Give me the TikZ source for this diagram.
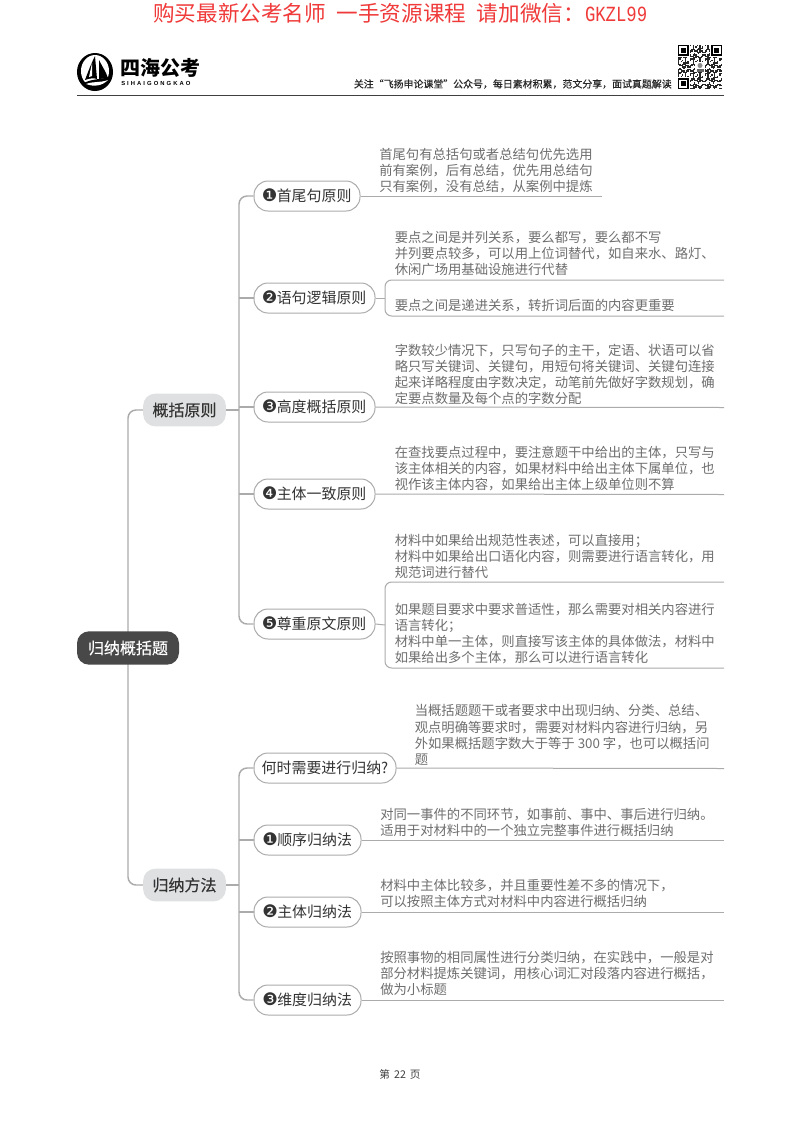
\documentclass[tikz,border=0pt]{standalone}
\usepackage{fontspec}
\usepackage{graphicx}
\setmainfont{Noto Sans CJK SC}
\newfontfamily\dv{DejaVu Sans}
\newfontfamily\semi[FakeBold=0.25]{Noto Sans CJK SC}
\newfontfamily\lat[LetterSpace=35]{Liberation Sans Bold}
\newfontfamily\mono{Liberation Mono}
\definecolor{linegray}{HTML}{ABABAB}
\definecolor{bodygray}{HTML}{6E6E6E}
\definecolor{kidtext}{HTML}{333333}
\definecolor{branchfill}{HTML}{DFE0E1}
\definecolor{rootfill}{HTML}{484848}
\definecolor{titlered}{HTML}{F03A3A}
\tikzset{
  x=0.75pt,y=-0.75pt,
  conn/.style={draw=linegray,line width=1.1pt},
  thin conn/.style={draw=linegray,line width=0.75pt},
  kid/.style={draw=linegray,line width=0.75pt,fill=white,rounded corners=10.5pt,minimum height=22.5pt,inner sep=0pt,text=kidtext,font=\fontsize{11.2pt}{13pt}\selectfont},
  branch/.style={fill=branchfill,rounded corners=9pt,minimum width=62pt,minimum height=24.5pt,inner sep=0pt,text=kidtext,font=\semi\fontsize{12pt}{14pt}\selectfont},
  rootn/.style={fill=rootfill,rounded corners=9pt,minimum width=76.5pt,minimum height=25pt,inner sep=0pt,text=white,font=\semi\fontsize{12pt}{14pt}\selectfont},
  body/.style={anchor=north west,inner sep=0pt,align=left,text=bodygray,font=\fontsize{10pt}{12.1pt}\selectfont},
}
\newcommand{\nb}[1]{{\dv\fontsize{13pt}{13pt}\selectfont\hspace{-0.5pt}#1}\hspace{-0.5pt}}
\begin{document}
\begin{tikzpicture}
\useasboundingbox (0,0) rectangle (800,1132);
\fill[white] (0,0) rectangle (800,1132);

% header
\node[anchor=west,inner sep=0pt,text=titlered,font=\fontsize{16.2pt}{18pt}\selectfont] (title) at (153,13) {购买最新公考名师\hspace{8pt}一手资源课程\hspace{8pt}请加微信：{\mono\scalebox{0.8}[1]{GKZL99}}};
\fill[black] (95,72) ellipse [x radius=18,y radius=19];
\fill[white] (95,71) ellipse [x radius=14,y radius=16];
\fill[black] (95,56) .. controls (91,64) and (88,72) .. (85,80) .. controls (90,78) and (94,78) .. (97,79) -- cycle;
\fill[black] (99,60) .. controls (102,66) and (106,72) .. (108,78) -- (99,79) -- cycle;
\fill[white] (92,63) -- (92,76) -- (89,77) -- cycle;
\fill[black] (82,84) .. controls (92,78) and (102,80) .. (112,76) .. controls (110,86) and (98,92) .. (90,90) -- cycle;
\fill[white] (86,84) .. controls (94,81) and (100,83) .. (108,80) .. controls (102,86) and (94,87) .. (86,84) -- cycle;
\node[anchor=west,inner sep=0pt,text=black,font=\fontsize{15pt}{17pt}\selectfont\bfseries] (brand) at (120,68) {四海公考};
\node[anchor=west,inner sep=0pt,text=black,font=\fontsize{4.4pt}{5pt}\selectfont] (brandlat) at (121,83.5) {\lat SIHAIGONGKAO};
\node[anchor=east,inner sep=0pt,text=black!85,font=\semi\fontsize{7.45pt}{9pt}\selectfont] (motto) at (672,84) {关注“飞扬申论课堂”公众号，每日素材积累，范文分享，面试真题解读};
% QR-like square
\foreach \i in {0,...,32}{\foreach \j in {0,...,32}{
  \edef\w{\the\numexpr \i*\i*7+\j*\j*13+\i*\j*5+\i+2*\j\relax}
  \edef\v{\the\numexpr \w-11*((\w-5)/11)\relax}
  \ifnum\v<5 \fill[black!85] ({678+\i*1.333},{45+\j*1.333}) rectangle ++(1.333,1.333);\fi
}}
\foreach \cx/\cy in {678/45,711.3/45,678/78.3}{
  \fill[white] (\cx-1,\cy-1) rectangle ++(12.7,12.7);
  \fill[black] (\cx,\cy) rectangle ++(10.7,10.7);
  \fill[white] (\cx+1.4,\cy+1.4) rectangle ++(7.9,7.9);
  \fill[black] (\cx+2.8,\cy+2.8) rectangle ++(5.1,5.1);
}
\fill[white] (695,62) rectangle (705,72);
\fill[black!45] (700,65.5) circle [radius=2.5];
\fill[black!60] (696.5,71.5) rectangle (703.5,68.5);
\coordinate (hl) at (77,95.5); \coordinate (hr) at (724,95.5);
\draw[draw=black!75,line width=1.1pt] (hl) -- (hr);

% connectors are drawn first so nodes sit on top: place coordinates for nodes
\coordinate (sp) at (239,0);
\draw[conn,rounded corners=6pt] (128,648) |- (184.5,410);
\draw[conn,rounded corners=6pt] (128,648) |- (184.5,885);

% nodes
\node[rootn] (root) at (128,648) {归纳概括题};
\node[branch] (b1) at (184.5,410) {概括原则};
\node[branch] (b2) at (184.5,885) {归纳方法};
\node[kid,minimum width=79.5pt] (n1) at (307,196) {\nb{❶}首尾句原则};
\node[kid,minimum width=90.75pt] (n2) at (314.5,298) {\nb{❷}语句逻辑原则};
\node[kid,minimum width=90.75pt] (n3) at (314.5,407) {\nb{❸}高度概括原则};
\node[kid,minimum width=90.75pt] (n4) at (314.5,494) {\nb{❹}主体一致原则};
\node[kid,minimum width=90.75pt] (n5) at (314.5,624) {\nb{❺}尊重原文原则};
\node[kid,minimum width=106.5pt] (m1) at (325,768) {何时需要进行归纳?};
\node[kid,minimum width=80.25pt] (m2) at (307.5,840) {\nb{❶}顺序归纳法};
\node[kid,minimum width=80.25pt] (m3) at (307.5,912) {\nb{❷}主体归纳法};
\node[kid,minimum width=80.25pt] (m4) at (307.5,1000) {\nb{❸}维度归纳法};

% spine connectors
\draw[conn] (b1.east) -- (sp |- b1.east);
\draw[conn,rounded corners=6pt] (sp |- b1.east) |- (n1.west);
\draw[conn,rounded corners=6pt] (sp |- b1.east) |- (n5.west);
\draw[conn] (sp |- n2.west) -- (n2.west);
\draw[conn] (sp |- n3.west) -- (n3.west);
\draw[conn] (sp |- n4.west) -- (n4.west);
\draw[conn] (b2.east) -- (sp |- b2.east);
\draw[conn,rounded corners=6pt] (sp |- b2.east) |- (m1.west);
\draw[conn,rounded corners=6pt] (sp |- b2.east) |- (m4.west);
\draw[conn] (sp |- m2.west) -- (m2.west);
\draw[conn] (sp |- m3.west) -- (m3.west);

% body texts
\node[body] (t1) at (379,148) {首尾句有总括句或者总结句优先选用\\前有案例，后有总结，优先用总结句\\只有案例，没有总结，从案例中提炼};
\node[body] (t2a) at (394.5,231) {要点之间是并列关系，要么都写，要么都不写\\并列要点较多，可以用上位词替代，如自来水、路灯、\\休闲广场用基础设施进行代替};
\node[body] (t2b) at (394.5,299) {要点之间是递进关系，转折词后面的内容更重要};
\node[body] (t3) at (394.5,344) {字数较少情况下，只写句子的主干，定语、状语可以省\\略只写关键词、关键句，用短句将关键词、关键句连接\\起来详略程度由字数决定，动笔前先做好字数规划，确\\定要点数量及每个点的字数分配};
\node[body] (t4) at (394.5,446) {在查找要点过程中，要注意题干中给出的主体，只写与\\该主体相关的内容，如果材料中给出主体下属单位，也\\视作该主体内容，如果给出主体上级单位则不算};
\node[body] (t5a) at (394.5,534) {材料中如果给出规范性表述，可以直接用；\\材料中如果给出口语化内容，则需要进行语言转化，用\\规范词进行替代};
\node[body] (t5b) at (394.5,603) {如果题目要求中要求普适性，那么需要对相关内容进行\\语言转化；\\材料中单一主体，则直接写该主体的具体做法，材料中\\如果给出多个主体，那么可以进行语言转化};
\node[body] (u1) at (414.5,704.5) {当概括题题干或者要求中出现归纳、分类、总结、\\观点明确等要求时，需要对材料内容进行归纳，另\\外如果概括题字数大于等于 300 字，也可以概括问\\题};
\node[body] (u2) at (380,808) {对同一事件的不同环节，如事前、事中、事后进行归纳。\\适用于对材料中的一个独立完整事件进行概括归纳};
\node[body] (u3) at (380,879) {材料中主体比较多，并且重要性差不多的情况下，\\可以按照主体方式对材料中内容进行概括归纳};
\node[body] (u4) at (380,951) {按照事物的相同属性进行分类归纳，在实践中，一般是对\\部分材料提炼关键词，用核心词汇对段落内容进行概括，\\做为小标题};

% underlines and brackets
\coordinate (e1) at (602,196);
\coordinate (e3) at (724,407.5);
\coordinate (e4) at (724,494.5);
\coordinate (f1) at (724,768.5);
\coordinate (f2) at (724,840);
\coordinate (f3) at (724,912);
\coordinate (f4) at (724,1000);
\draw[thin conn] (n1.east) -- (e1);
\draw[thin conn] (n3.east) -- (e3);
\draw[thin conn] (n4.east) -- (e4);
\draw[thin conn] (m1.east) -- (f1);
\draw[thin conn] (m2.east) -- (f2);
\draw[thin conn] (m3.east) -- (f3);
\draw[thin conn] (m4.east) -- (f4);
\coordinate (k2) at (385,298);
\coordinate (k5) at (385,625);
\draw[thin conn] (n2.east) -- (k2);
\draw[thin conn] (n5.east) -- (k5);
\draw[thin conn,rounded corners=5pt] (724,280) -- (385,280) -- (385,316) -- (724,316);
\draw[thin conn,rounded corners=5pt] (724,582) -- (385,582) -- (385,668) -- (724,668);

% footer
\node[inner sep=0pt,text=black!75,font=\fontsize{8pt}{10pt}\selectfont] (foot) at (400,1074) {第\hspace{3pt}22\hspace{3pt}页};
\end{tikzpicture}
\end{document}
